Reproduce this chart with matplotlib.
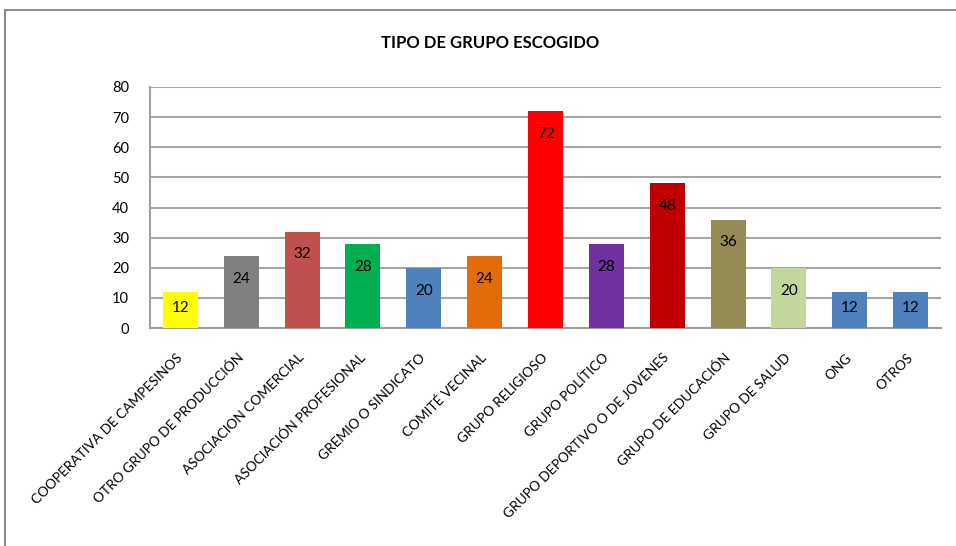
import numpy as np
import matplotlib
matplotlib.use("Agg")
import matplotlib.pyplot as plt
from matplotlib.patches import Rectangle

plt.rcParams['font.family'] = ['Lato', 'DejaVu Sans']

categorias = ["COOPERATIVA DE CAMPESINOS", "OTRO GRUPO DE PRODUCCIÓN",
              "ASOCIACION COMERCIAL", "ASOCIACIÓN PROFESIONAL",
              "GREMIO O SINDICATO", "COMITÉ VECINAL", "GRUPO RELIGIOSO",
              "GRUPO POLÍTICO", "GRUPO DEPORTIVO O DE JOVENES",
              "GRUPO DE EDUCACIÓN", "GRUPO DE SALUD", "ONG", "OTROS"]
valores = [12, 24, 32, 28, 20, 24, 72, 28, 48, 36, 20, 12, 12]
colores = ["#FFFF00", "#808080", "#C0504D", "#00B050", "#4F81BD", "#E36C09",
           "#FF0000", "#7030A0", "#C00000", "#948A54", "#C3D69B", "#4F81BD",
           "#4F81BD"]
yticks = [0, 10, 20, 30, 40, 50, 60, 70, 80]

W, H = 956, 546
fig = plt.figure(figsize=(W / 100, H / 100), dpi=100)

# marco del grafico (se sale por la derecha y por abajo)
fig.patches.append(Rectangle((5 / W, -0.1), 1.2, 1.1 - 10 / H, transform=fig.transFigure,
                             fill=False, edgecolor="#8c8c8c", linewidth=1.5))

ax = fig.add_axes([150 / W, 1 - 328 / H, (941 - 150) / W, (328 - 87) / H])

x = np.arange(len(categorias))
ax.bar(x, valores, width=0.575, color=colores, zorder=3)
ax.set_xlim(-0.5, len(categorias) - 0.5)
ax.set_ylim(0, 80)
ax.set_yticks(yticks)
ax.yaxis.grid(True, color="#a6a6a6", linewidth=1.5, zorder=0)
ax.set_axisbelow(True)

for s in ["top", "right"]:
    ax.spines[s].set_visible(False)
for s in ["left", "bottom"]:
    ax.spines[s].set_color("#a0a0a0")
    ax.spines[s].set_linewidth(1.5)

ax.tick_params(axis="y", length=0, pad=15, labelsize=10.5)
ax.tick_params(axis="x", length=0, pad=20, labelsize=9.8)
ax.set_xticks(x)
ax.set_xticklabels(categorias, rotation=45, ha="right", va="center",
                   rotation_mode="anchor")

# etiquetas de datos dentro del extremo de la barra
for xi, v in zip(x, valores):
    yl = max(v - 7.6, v / 2 + 0.6)
    ax.text(xi, yl, str(v), ha="center", va="center", fontsize=11, color="black", zorder=4)

fig.text(490 / W, 1 - 43 / H, "TIPO DE GRUPO ESCOGIDO", ha="center", va="center",
         fontsize=12, fontweight="bold")

fig.savefig("out.png", dpi=100)
